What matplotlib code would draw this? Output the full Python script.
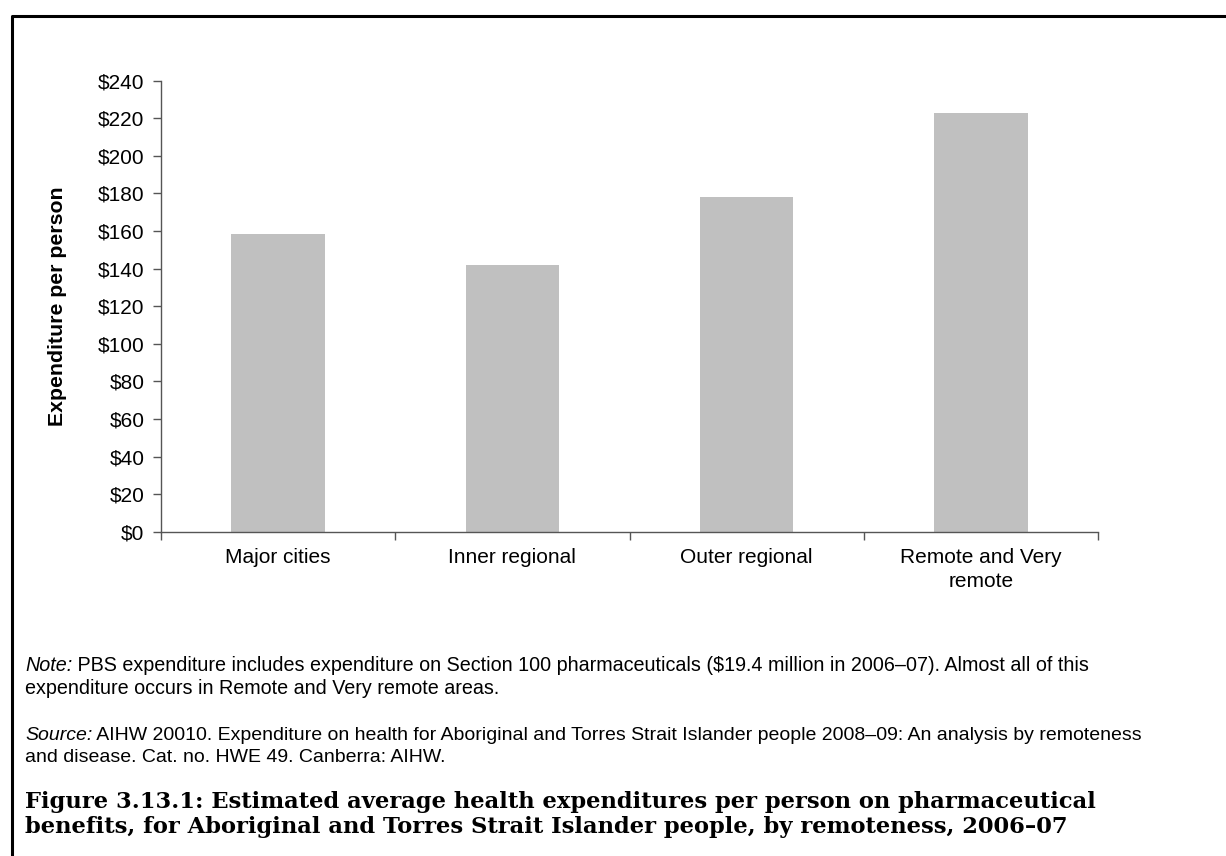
#!/bin/python
import matplotlib
matplotlib.use('Agg')
import matplotlib.pyplot as plt
from matplotlib.lines import Line2D
from matplotlib.ticker import FuncFormatter, MultipleLocator

'''
estimated average pharmaceutical expenditure per person, by remoteness
'''

categories = ['Major cities', 'Inner regional', 'Outer regional', 'Remote and Very\nremote']
expenditure = [158.5, 141.8, 178.3, 223.0]

note_lines = ['PBS expenditure includes expenditure on Section 100 pharmaceuticals ($19.4 million in 2006\u201307). Almost all of this',
              'expenditure occurs in Remote and Very remote areas.']
source_lines = ['AIHW 20010. Expenditure on health for Aboriginal and Torres Strait Islander people 2008\u201309: An analysis by remoteness',
                'and disease. Cat. no. HWE 49. Canberra: AIHW.']
caption_lines = ['Figure 3.13.1: Estimated average health expenditures per person on pharmaceutical',
                 'benefits, for Aboriginal and Torres Strait Islander people, by remoteness, 2006\u201307']

W, H = 1226, 856
plt.rcParams['font.family'] = ['Liberation Sans', 'DejaVu Sans']

fig = plt.figure(figsize=(W / 100, H / 100), dpi=100)
ax = fig.add_axes([161 / W, (H - 531.7) / H, (1098 - 161) / W, (531.7 - 80.7) / H])

ax.bar(range(len(categories)), expenditure, width=0.4, color='#c0c0c0', zorder=2)

axis_col = '#555555'
ax.set_xlim(-0.5, len(categories) - 0.5)
ax.set_ylim(0, 240)
ax.yaxis.set_major_locator(MultipleLocator(20))
ax.yaxis.set_major_formatter(FuncFormatter(lambda v, p: '${:.0f}'.format(v)))

ax.set_xticks(range(len(categories)))
ax.set_xticklabels(categories, fontsize=15, linespacing=1.3)
ax.set_xticks([i - 0.5 for i in range(len(categories) + 1)], minor=True)
ax.tick_params(axis='x', which='major', length=0, pad=12)
ax.tick_params(axis='x', which='minor', length=6, width=1, color=axis_col, direction='out')
ax.tick_params(axis='y', length=6, width=1, color=axis_col, direction='out', labelsize=15, pad=6)

for side in ['top', 'right']:
  ax.spines[side].set_visible(False)
for side in ['left', 'bottom']:
  ax.spines[side].set_color(axis_col)
  ax.spines[side].set_linewidth(1)

ax.set_ylabel('Expenditure per person', fontsize=15.3, fontweight='bold', labelpad=22)

# frame around the figure block
fig.add_artist(Line2D([11.5 / W, 11.5 / W, 1.0], [0.0, (H - 15.5) / H, (H - 15.5) / H],
                      transform=fig.transFigure, color='black', lw=2.2))


def labelled(x, y, label, lines, size=14.2, gap=22.5):
  t = fig.text(x / W, (H - y) / H, label, fontsize=size, style='italic', va='baseline')
  ax.annotate(' ' + lines[0], xy=(1, 0), xycoords=t, fontsize=size, va='bottom', ha='left')
  fig.text(x / W, (H - y - gap) / H, lines[1], fontsize=size, va='baseline')


labelled(25, 671, 'Note:', note_lines)
labelled(25, 739.5, 'Source:', source_lines, size=14.0)

for i, line in enumerate(caption_lines):
  fig.text(25 / W, (H - 808 - 25 * i) / H, line, fontsize=16.3, fontweight='bold',
           family=['DejaVu Serif'], va='baseline')

fig.savefig('out.png', dpi=100)
